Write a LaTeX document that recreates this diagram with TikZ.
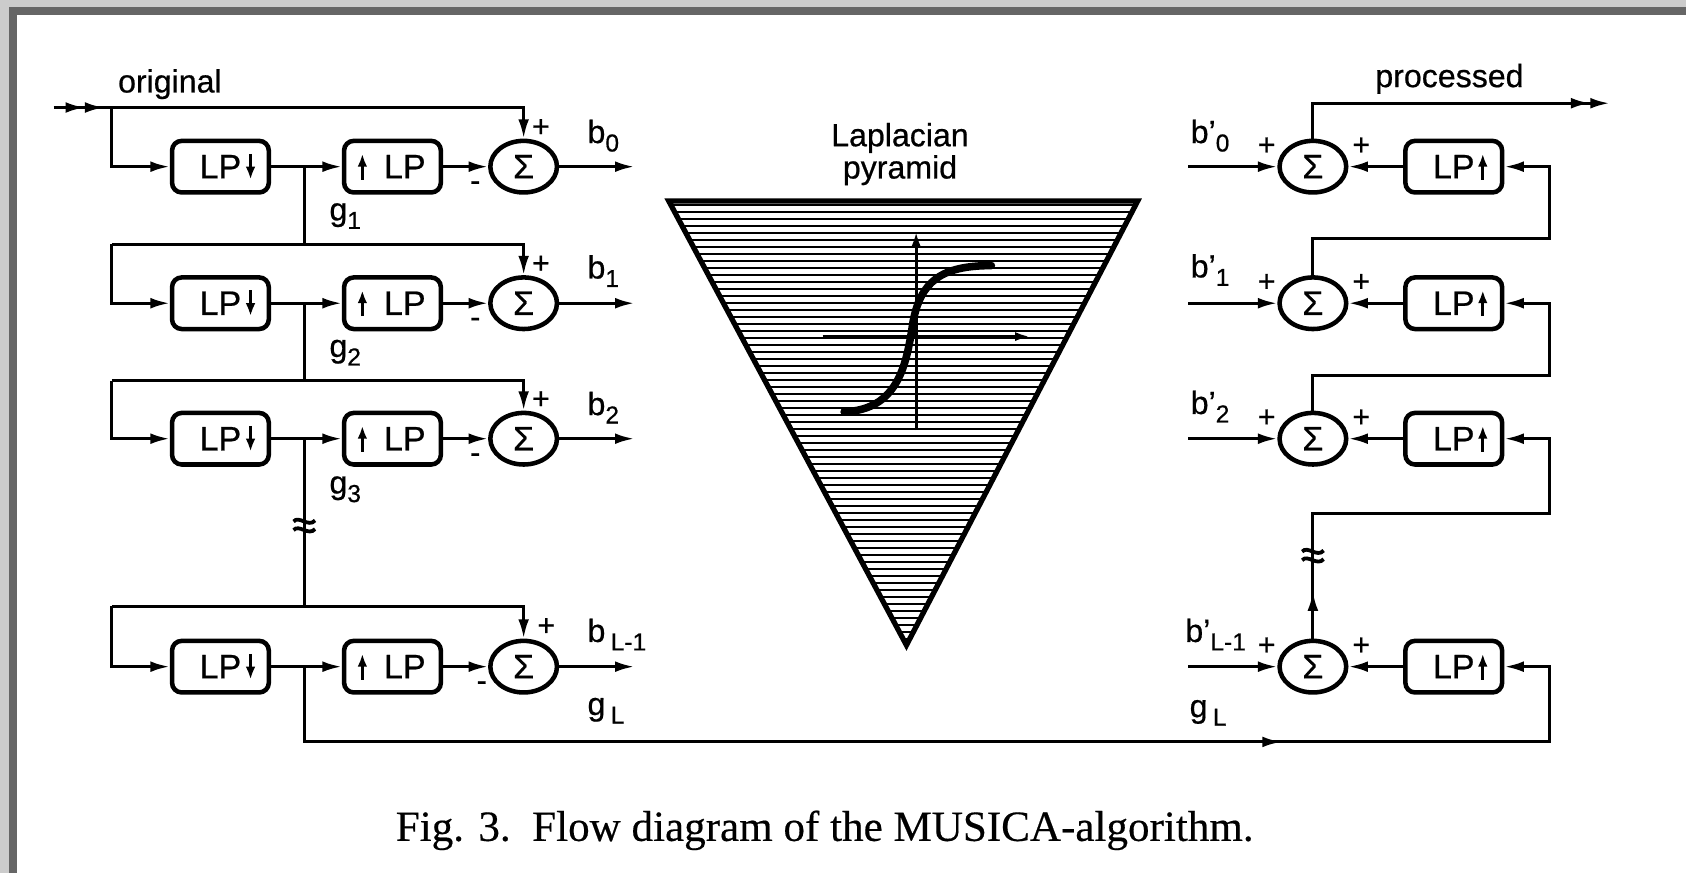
\documentclass[tikz,border=0pt]{standalone}
\usepackage{fontspec}
\setmainfont{Liberation Sans}[FakeBold=0.6]
\newfontfamily\capfont{Liberation Serif}[FakeBold=0.4]
\usetikzlibrary{shapes.geometric,arrows.meta,calc}
\definecolor{lightframe}{HTML}{CCCCCC}
\definecolor{darkframe}{HTML}{666666}
\newcommand\mysub[1]{\raisebox{-0.5ex}{\fontsize{13}{13}\selectfont #1}}
\newcommand\bpr[1]{b’\mysub{#1}}
\begin{document}
\begin{tikzpicture}[x=0.02cm,y=-0.02cm,
  line width=1.6pt,
  arr/.style={-{Latex[length=3.6mm,width=2mm]}},
  dblarr/.style={-{Latex[length=3.6mm,width=2mm]Latex[length=3.6mm,width=2mm]}},
  smallarr/.style={-{Latex[length=2.4mm,width=1.8mm]},line width=1.4pt},
  lpbox/.style={draw,line width=2.4pt,rounded corners=1.8mm,minimum width=1.8cm,minimum height=0.96cm,inner sep=0pt,font=\fontsize{18}{20}\selectfont},
  sumnode/.style={draw,ellipse,line width=2.4pt,minimum width=1.24cm,minimum height=0.96cm,inner sep=0pt,font=\fontsize{18}{20}\selectfont},
  lbl/.style={font=\fontsize{17}{19}\selectfont,inner sep=0pt},
  sgn/.style={font=\fontsize{16}{16}\selectfont,inner sep=0pt},
]
% frame
\fill[lightframe] (0,0) rectangle (1568,812);
\fill[darkframe] (8,6.5) rectangle (1568,812);
\fill[white] (15.5,14) rectangle (1568,812);
\useasboundingbox (0,0) rectangle (1568,812);

% ---------------- left analysis side ----------------
\foreach \i/\y/\t in {1/155/100,2/282/227,3/408/354,4/620/564}{
  \node[lpbox] (lpd\i) at (205,\y) {LP\hspace{0.42cm}};
  \node[lpbox] (lpu\i) at (365,\y) {\hspace{0.46cm}LP};
  \node[sumnode] (sum\i) at (487,\y) {Σ};
  \coordinate (j\i) at (283,\y);
  \coordinate (bo\i) at (590,\y);
  \coordinate (t\i) at (104,\t);
  \coordinate (tr\i) at (487,\t);
  \draw[arr] (t\i) |- (lpd\i.west);
  \draw (lpd\i.east) -- (j\i);
  \draw[arr] (j\i) -- (lpu\i.west);
  \draw[arr] (lpu\i.east) -- (sum\i.west);
  \draw[arr] (sum\i.east) -- (bo\i);
  \draw[arr] (t\i) -- (tr\i) -- (sum\i.north);
  \draw[smallarr] ($(lpd\i.center)+(28,-12)$) -- ($(lpd\i.center)+(28,12)$);
  \draw[smallarr] ($(lpu\i.center)+(-28,12)$) -- ($(lpu\i.center)+(-28,-12)$);
}
\coordinate (in) at (50,100);
\draw (in) -- (tr1);
\draw[dblarr] (in) -- (97,100);
\node[lbl,anchor=base] (orig) at (158,86) {original};

\draw (j1) -- (j1 |- t2);
\draw (j2) -- (j2 |- t3);
\draw (j3) -- (j3 |- t4);

% signs and labels left
\foreach \i/\y in {1/155,2/282,3/408}{
  \node[sgn] (pl\i) at (503,\y-36) {+};
  \node[sgn] (mi\i) at (442,\y+18) {-};
}
\node[sgn] (pl4) at (508,583) {+};
\node[sgn] (mi4) at (448,638) {-};
\node[lbl,anchor=base west] (lb0) at (545,133) {b\mysub{0}};
\node[lbl,anchor=base west] (lb1) at (545,259) {b\mysub{1}};
\node[lbl,anchor=base west] (lb2) at (545,386) {b\mysub{2}};
\node[lbl,anchor=base west] (lb4) at (545,597) {b\,\mysub{L-1}};
\node[lbl,anchor=base west] (lg1) at (305,205) {g\mysub{1}};
\node[lbl,anchor=base west] (lg2) at (305,332) {g\mysub{2}};
\node[lbl,anchor=base west] (lg3) at (305,459) {g\mysub{3}};
\node[lbl,anchor=base west] (lgL) at (545,665) {g\,\mysub{L}};

% squiggle left
\draw[line width=2pt] (273,485) .. controls (278,479) and (287,491) .. (293,484);
\draw[line width=2pt] (273,493) .. controls (278,487) and (287,499) .. (293,492);

% ---------------- right synthesis side ----------------
\foreach \i/\y in {1/155,2/282,3/408,4/620}{
  \node[sumnode] (rs\i) at (1221,\y) {Σ};
  \node[lpbox] (lpr\i) at (1352,\y) {LP\hspace{0.42cm}};
  \coordinate (rin\i) at (1105,\y);
  \draw[arr] (rin\i) -- (rs\i.west);
  \draw[arr] (lpr\i.west) -- (rs\i.east);
  \draw[smallarr] ($(lpr\i.center)+(27,12)$) -- ($(lpr\i.center)+(27,-12)$);
  \node[sgn] (rpa\i) at (1178,\y-19) {+};
  \node[sgn] (rpb\i) at (1266,\y-19) {+};
}
\coordinate (out) at (1497,96);
\draw[dblarr] (rs1.north) |- (out);
\node[lbl,anchor=base] (proc) at (1348,81) {processed};
\coordinate (rc2) at (1441,222);
\coordinate (rc3) at (1441,349);
\coordinate (rc4) at (1441,478);
\coordinate (rc5) at (1441,690);
\draw[arr] (rs2.north) |- (rc2) |- (lpr1.east);
\draw[arr] (rs3.north) |- (rc3) |- (lpr2.east);
\draw[arr] (rs4.north) |- (rc4) |- (lpr3.east);
\coordinate (rup) at (1221,550);
\draw[arr] (rs4.north) -- (rup);
\draw[line width=2pt] (1211,513) .. controls (1216,507) and (1225,519) .. (1231,512);
\draw[line width=2pt] (1211,521) .. controls (1216,515) and (1225,527) .. (1231,520);

\draw[arr] (j4) |- (rc5) |- (lpr4.east);
\coordinate (gm) at (1192,690);
\draw[arr] (j4 |- rc5) -- (gm);

\node[lbl,anchor=base west] (rb0) at (1106,133) {\bpr{0}};
\node[lbl,anchor=base west] (rb1) at (1106,258) {\bpr{1}};
\node[lbl,anchor=base west] (rb2) at (1106,385) {\bpr{2}};
\node[lbl,anchor=base west] (rb4) at (1101,597) {\bpr{L-1}};
\node[lbl,anchor=base west] (rgL) at (1105,667) {g\,\mysub{L}};

% ---------------- pyramid ----------------
\node[lbl,anchor=base] (lap) at (837,136) {Laplacian};
\node[lbl,anchor=base] (pyr) at (837,166) {pyramid};
\coordinate (pa) at (622,187);
\coordinate (pb) at (1058,187);
\coordinate (pc) at (843,600);
\begin{scope}
  \clip (pa) -- (pb) -- (pc) -- cycle;
  \foreach \yy in {191,197.5,...,600}{
    \draw[line width=1pt] (600,\yy) -- (1080,\yy);
  }
\end{scope}
\draw[line width=2.8pt,line join=miter] (pa) -- (pb) -- (pc) -- cycle;
\coordinate (va) at (852,400);
\coordinate (vb) at (852,215);
\coordinate (ha) at (765,313);
\coordinate (hb) at (958,313);
\draw[-{Latex[length=2.8mm,width=1.7mm]},line width=1.6pt] (va) -- (vb);
\draw[-{Latex[length=2.8mm,width=1.7mm]},line width=1.6pt] (ha) -- (hb);
\draw[line width=4pt,line cap=round] (785,383) .. controls (835,381) and (843,340) .. (849,300) .. controls (856,262) and (875,247) .. (922,247);

% caption
\node[font=\capfont\fontsize{22.8}{26}\selectfont,anchor=base,inner sep=0pt] (cap) at (767,782) {Fig. 3.\ \ Flow diagram of the MUSICA-algorithm.};
\end{tikzpicture}
\end{document}
